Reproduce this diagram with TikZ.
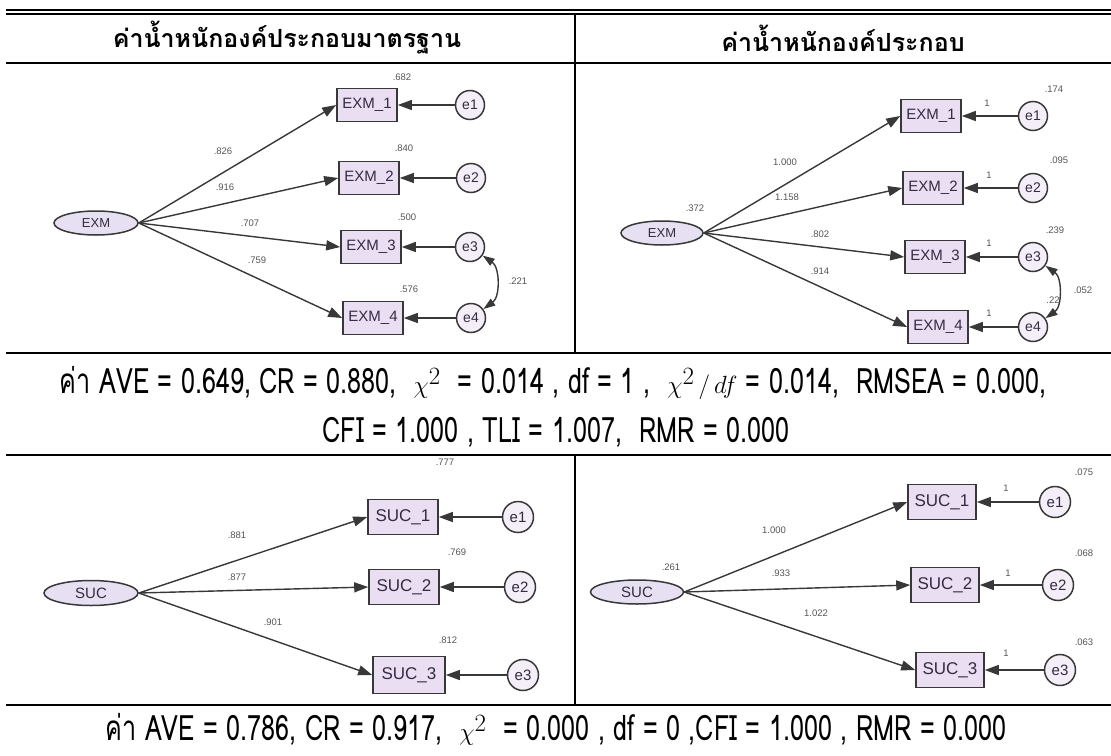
\documentclass[tikz,border=0pt]{standalone}
\usepackage{amsmath}
\usepackage{fontspec}
\usetikzlibrary{shapes.geometric,arrows.meta,calc,positioning}
\newfontfamily\thaifont[Script=Thai]{Loma}
\newfontfamily\statfont[Script=Thai,FakeStretch=0.72]{Loma}
\newfontfamily\semfont{Liberation Sans}
\definecolor{semline}{HTML}{383838}
\definecolor{semtext}{HTML}{352B42}
\definecolor{boxfill}{HTML}{E9DEF2}
\definecolor{latfill}{HTML}{E6E0F2}
\definecolor{estgray}{HTML}{555555}

\begin{document}
\begin{tikzpicture}[x=1pt,y=-1pt,
    rule/.style={line width=2pt,black},
    latent/.style={ellipse,draw=semline,fill=latfill,line width=1.5pt,minimum width=84pt,minimum height=24pt,inner sep=0pt,text=semtext,font=\semfont\fontsize{13}{13}\selectfont},
    manifest/.style={rectangle,draw=semline,fill=boxfill,line width=1.6pt,minimum width=60pt,minimum height=33pt,inner sep=0pt,text=semtext,font=\semfont\fontsize{15}{15}\selectfont},
    errc/.style={circle,draw=semline,fill=boxfill!50,line width=1.5pt,minimum size=29pt,inner sep=0pt,text=semtext,font=\semfont\fontsize{14}{14}\selectfont},
    estlab/.style={text=estgray,inner sep=0pt,font=\semfont\fontsize{9.5}{9.5}\selectfont},
    semarrow/.style={-{Triangle[length=14pt,width=10pt]},draw=semline,line width=1.4pt},
    covarrow/.style={{Triangle[length=12pt,width=8pt]}-{Triangle[length=12pt,width=8pt]},draw=semline,line width=1.4pt},
    headtext/.style={font=\thaifont\bfseries\fontsize{25}{27}\selectfont},
    statline/.style={font=\statfont\fontsize{35}{37}\selectfont,inner sep=0pt}]
\useasboundingbox (0,0) rectangle (1111,755);

%Table rules
\draw[rule] (6,10) -- (1111,10);
\draw[rule] (6,14) -- (1111,14);
\draw[rule] (6,63) -- (1111,63);
\draw[rule] (6,353) -- (1111,353);
\draw[rule] (6,455) -- (1111,455);
\draw[rule] (6,705) -- (1111,705);
\draw[rule] (575,14) -- (575,353);
\draw[rule] (575,455) -- (575,705);

%Headers
\node[headtext] (hstd) at (287,38) {ค่าน้ำหนักองค์ประกอบมาตรฐาน};
\node[headtext] (hraw) at (843,38) {ค่าน้ำหนักองค์ประกอบ};

%EXM standardized
\node[latent] (ex) at (96,223) {EXM};
\node[manifest] (ex1) at (367,105) {EXM\_1};
\node[manifest] (ex2) at (369,178) {EXM\_2};
\node[manifest] (ex3) at (371,247) {EXM\_3};
\node[manifest] (ex4) at (373,318) {EXM\_4};
\node[errc] (ee1) at (470,105) {e1};
\node[errc] (ee2) at (471,178) {e2};
\node[errc] (ee3) at (470,247) {e3};
\node[errc] (ee4) at (471,318) {e4};
\draw[semarrow] (ex.east) -- (ex1.west);
\draw[semarrow] (ex.east) -- (ex2.west);
\draw[semarrow] (ex.east) -- (ex3.west);
\draw[semarrow] (ex.east) -- (ex4.west);
\draw[semarrow] (ee1) -- (ex1);
\draw[semarrow] (ee2) -- (ex2);
\draw[semarrow] (ee3) -- (ex3);
\draw[semarrow] (ee4) -- (ex4);
\draw[covarrow] (ee3) to[bend left=55] (ee4);
\node[estlab] at (402,77) {.682};
\node[estlab] at (404,148) {.840};
\node[estlab] at (407,217) {.500};
\node[estlab] at (409,289) {.576};
\node[estlab] at (223,151) {.826};
\node[estlab] at (225,187) {.916};
\node[estlab] at (250,223) {.707};
\node[estlab] at (257,260) {.759};
\node[estlab] at (518,281) {.221};

%EXM unstandardized
\node[latent,minimum width=82pt] (ux) at (662,233) {EXM};
\node[manifest] (ux1) at (931,116) {EXM\_1};
\node[manifest] (ux2) at (933,188) {EXM\_2};
\node[manifest] (ux3) at (935,257) {EXM\_3};
\node[manifest] (ux4) at (938,327) {EXM\_4};
\node[errc] (ue1) at (1033,116) {e1};
\node[errc] (ue2) at (1033,188) {e2};
\node[errc] (ue3) at (1033,257) {e3};
\node[errc] (ue4) at (1033,327) {e4};
\draw[semarrow] (ux.east) -- (ux1.west);
\draw[semarrow] (ux.east) -- (ux2.west);
\draw[semarrow] (ux.east) -- (ux3.west);
\draw[semarrow] (ux.east) -- (ux4.west);
\draw[semarrow] (ue1) -- (ux1);
\draw[semarrow] (ue2) -- (ux2);
\draw[semarrow] (ue3) -- (ux3);
\draw[semarrow] (ue4) -- (ux4);
\node[estlab] at (1053,300) {.22};
\draw[covarrow] (ue3) to[bend left=55] (ue4);
\node[estlab] at (695,208) {.372};
\node[estlab] at (1054,89) {.174};
\node[estlab] at (1059,160) {.095};
\node[estlab] at (1055,230) {.239};
\node[estlab] at (1083,290) {.052};
\node[estlab] at (987,103) {1};
\node[estlab] at (989,175) {1};
\node[estlab] at (989,243) {1};
\node[estlab] at (989,313) {1};
\node[estlab] at (785,162) {1.000};
\node[estlab] at (787,197) {1.158};
\node[estlab] at (820,234) {.802};
\node[estlab] at (820,271) {.914};

%Fit indices EXM
\node[statline] (fitex) at (553,383) {ค่า AVE = 0.649, CR = 0.880,\ \ $\chi^{2}$\ \ = 0.014 , df = 1 ,\ \ $\chi^{2}\,/\,df$ = 0.014,\ \ RMSEA = 0.000,};
\node[statline] (fitex2) at (556,432) {CFI = 1.000 , TLI = 1.007,\ \ RMR = 0.000};

%SUC standardized
\node[latent,minimum width=94pt,minimum height=25pt,font=\semfont\fontsize{15}{15}\selectfont] (sc) at (91,593) {SUC};
\node[manifest,minimum width=70pt,minimum height=35pt,font=\semfont\fontsize{17}{17}\selectfont] (sc1) at (403,517) {SUC\_1};
\node[manifest,minimum width=70pt,minimum height=35pt,font=\semfont\fontsize{17}{17}\selectfont] (sc2) at (404,587) {SUC\_2};
\node[manifest,minimum width=72pt,minimum height=37pt,font=\semfont\fontsize{17}{17}\selectfont] (sc3) at (409,675) {SUC\_3};
\node[errc,minimum size=31pt,font=\semfont\fontsize{15}{15}\selectfont] (se1) at (518,517) {e1};
\node[errc,minimum size=31pt,font=\semfont\fontsize{15}{15}\selectfont] (se2) at (520,587) {e2};
\node[errc,minimum size=31pt,font=\semfont\fontsize{15}{15}\selectfont] (se3) at (523,675) {e3};
\draw[semarrow] (sc.east) -- (sc1.west);
\draw[semarrow] (sc.east) -- (sc2.west);
\draw[semarrow] (sc.east) -- (sc3.west);
\draw[semarrow] (se1) -- (sc1);
\draw[semarrow] (se2) -- (sc2);
\draw[semarrow] (se3) -- (sc3);
\node[estlab] at (445,462) {.777};
\node[estlab] at (457,552) {.769};
\node[estlab] at (448,640) {.812};
\node[estlab] at (237,535) {.881};
\node[estlab] at (237,577) {.877};
\node[estlab] at (273,622) {.901};

%SUC unstandardized
\node[latent,minimum width=93pt,minimum height=24pt,font=\semfont\fontsize{15}{15}\selectfont] (us) at (637,592) {SUC};
\node[manifest,minimum width=68pt,minimum height=35pt,font=\semfont\fontsize{17}{17}\selectfont] (us1) at (942,502) {SUC\_1};
\node[manifest,minimum width=68pt,minimum height=35pt,font=\semfont\fontsize{17}{17}\selectfont] (us2) at (945,585) {SUC\_2};
\node[manifest,minimum width=68pt,minimum height=35pt,font=\semfont\fontsize{17}{17}\selectfont] (us3) at (950,670) {SUC\_3};
\node[errc,minimum size=31pt,font=\semfont\fontsize{15}{15}\selectfont] (ve1) at (1055,502) {e1};
\node[errc,minimum size=31pt,font=\semfont\fontsize{15}{15}\selectfont] (ve2) at (1058,585) {e2};
\node[errc,minimum size=31pt,font=\semfont\fontsize{15}{15}\selectfont] (ve3) at (1060,670) {e3};
\draw[semarrow] (us.east) -- (us1.west);
\draw[semarrow] (us.east) -- (us2.west);
\draw[semarrow] (us.east) -- (us3.west);
\draw[semarrow] (ve1) -- (us1);
\draw[semarrow] (ve2) -- (us2);
\draw[semarrow] (ve3) -- (us3);
\node[estlab] at (671,567) {.261};
\node[estlab] at (1084,472) {.075};
\node[estlab] at (1084,553) {.068};
\node[estlab] at (1084,642) {.063};
\node[estlab] at (1006,488) {1};
\node[estlab] at (1008,573) {1};
\node[estlab] at (1006,653) {1};
\node[estlab] at (774,530) {1.000};
\node[estlab] at (781,573) {.933};
\node[estlab] at (816,613) {1.022};

%Fit indices SUC
\node[statline] (fitsc) at (556,729) {ค่า AVE = 0.786, CR = 0.917,\ \ $\chi^{2}$\ \ = 0.000 , df = 0 ,CFI = 1.000 , RMR = 0.000};
\end{tikzpicture}
\end{document}
